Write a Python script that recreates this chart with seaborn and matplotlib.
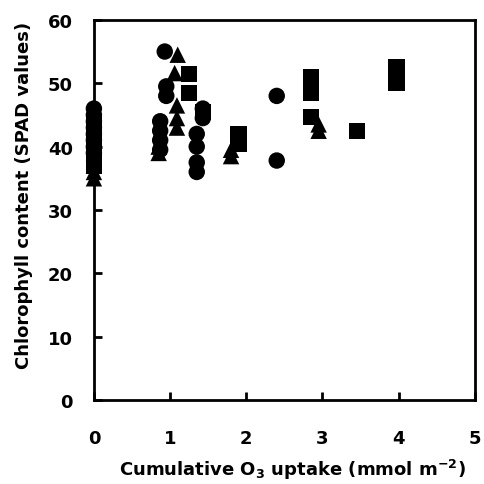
import pandas as pd
import numpy as np
import matplotlib.pyplot as plt
import seaborn as sns

# values
circle_x = [0, 0, 0, 0, 0, 0, 0, 0,
            0.93, 0.95, 0.95, 0.87, 0.87, 0.87, 0.87,
            1.43, 1.43, 1.35, 1.35, 1.35, 1.35,
            2.4, 2.4]
circle_y = [46, 45, 44, 43, 42, 41, 40, 39,
            55, 49.5, 48, 44, 42.5, 41, 39.5,
            46, 44.5, 42, 40, 37.5, 36,
            48, 37.8]

square_x = [0, 0, 0, 0, 0, 0, 0, 0,
            1.25, 1.25, 1.43,
            1.9, 1.9,
            2.85, 2.85, 2.85,
            3.45,
            3.97, 3.97, 3.97]
square_y = [44, 43, 42, 41, 40, 39, 38, 37,
            51.5, 48.5, 45.5,
            42, 40.5,
            51, 48.5, 44.7,
            42.5,
            52.5, 51, 50]

triangle_x = [0, 0, 0, 0, 0, 0, 0,
              1.1, 1.06, 1.09, 1.09, 1.09, 0.85, 0.85,
              1.8, 1.8,
              2.95, 2.95]
triangle_y = [45, 43, 41, 39, 37, 36, 35,
              54.5, 51.6, 46.5, 44.5, 43, 40, 39,
              39.5, 38.5,
              43.5, 42.5]

data = pd.concat([
    pd.DataFrame({'uptake': circle_x, 'spad': circle_y, 'group': 'circle'}),
    pd.DataFrame({'uptake': square_x, 'spad': square_y, 'group': 'square'}),
    pd.DataFrame({'uptake': triangle_x, 'spad': triangle_y, 'group': 'triangle'}),
])

sns.set_style('ticks')
plt.rcParams['font.family'] = ['DejaVu Sans']
plt.rcParams['font.weight'] = 'bold'
plt.rcParams['mathtext.default'] = 'bf'
for key in ['text.color', 'axes.labelcolor', 'xtick.color', 'ytick.color']:
    plt.rcParams[key] = 'black'

fig = plt.figure(figsize=(4.84, 4.85), dpi=100)
ax = fig.add_axes([0.194, 0.173, 0.787, 0.784])

sns.scatterplot(x='uptake', y='spad', data=data, style='group',
                markers={'circle': 'o', 'square': 's', 'triangle': '^'},
                color='black', edgecolor='none', s=140, legend=False,
                clip_on=False, zorder=3, ax=ax)

ax.set_xlim(0, 5)
ax.set_ylim(0, 60)
ax.set_xticks(range(0, 6))
ax.set_yticks(range(0, 61, 10))
ax.tick_params(direction='in', length=6, width=2, labelsize=13,
               color='black', labelcolor='black')
ax.tick_params(axis='x', pad=21)
ax.tick_params(axis='y', pad=15)
for side in ['left', 'bottom', 'right', 'top']:
    ax.spines[side].set_linewidth(2)
    ax.spines[side].set_color('black')

ax.set_xlabel('Cumulative O$_3$ uptake (mmol m$^{-2}$)', fontsize=13,
              fontweight='bold', color='black')
ax.set_ylabel('Chlorophyll content (SPAD values)', fontsize=13,
              fontweight='bold', color='black')
ax.xaxis.set_label_coords(0.52, -0.15)
ax.yaxis.set_label_coords(-0.16, 0.542)

plt.savefig('out.png', dpi=100)
